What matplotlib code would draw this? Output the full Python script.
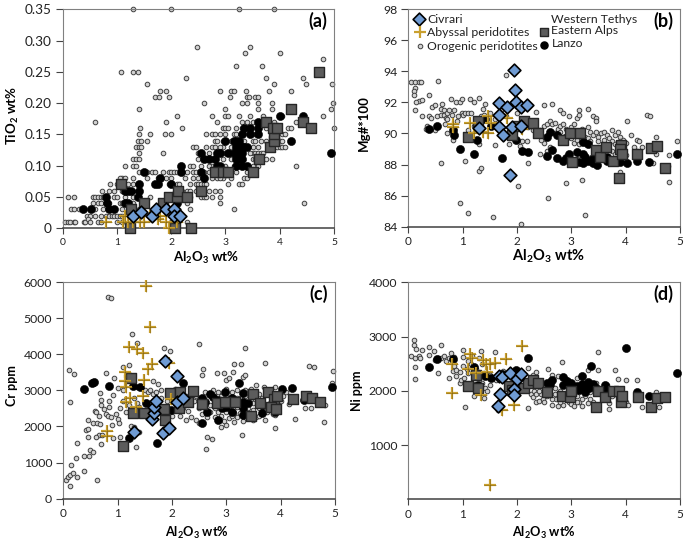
import matplotlib
matplotlib.use('Agg')
import matplotlib.pyplot as plt

plt.rcParams['font.family'] = ['Lato', 'DejaVu Sans']
plt.rcParams['mathtext.fontset'] = 'custom'
plt.rcParams['mathtext.rm'] = 'Lato'
plt.rcParams['mathtext.bf'] = 'Lato:bold'

x_ticks = [0, 1, 2, 3, 4, 5]
ticks_a = [0, 0.05, 0.10, 0.15, 0.20, 0.25, 0.30, 0.35]
tick_labels_a = ['0', '0.05', '0.10', '0.15', '0.20', '0.25', '0.30', '0.35']
ticks_b = [84, 86, 88, 90, 92, 94, 96, 98]
ticks_c = [0, 1000, 2000, 3000, 4000, 5000, 6000]
ticks_d = [1000, 2000, 3000, 4000]

# panel a, Al2O3 vs TiO2
oro_a = [(1.3,.35),(2.0,.35),(3.25,.35),(3.9,.35),(2.48,.29),(3.45,.29),(3.36,.28),(4.0,.28),(4.8,.27),(3.2,.26),(3.68,.26),
(1.08,.25),(1.29,.25),(1.39,.25),(2.27,.24),(3.75,.24),(4.43,.24),(1.55,.23),(3.9,.23),(4.49,.23),(4.97,.23),
(1.8,.22),(1.9,.22),(2.9,.22),(3.1,.22),(3.15,.22),(3.37,.22),(3.8,.22),(4.2,.22),(1.7,.21),(1.77,.21),(1.95,.21),(3.08,.21),(3.4,.21),(3.43,.21),(3.55,.21),(3.6,.21),
(2.6,.20),(3.3,.20),(3.4,.20),(3.6,.20),(3.85,.20),(4.98,.20),(1.4,.19),(3.0,.19),(3.6,.19),(3.85,.19),(4.95,.19),
(2.1,.18),(2.75,.18),(3.0,.18),(3.05,.18),(3.25,.18),(3.45,.18),(3.7,.18),(4.05,.18),(4.8,.18),(.6,.17),(1.9,.17),(2.85,.17),(3.3,.17),(3.5,.17),(3.9,.17),(4.3,.17),
(1.42,.16),(2.2,.16),(2.95,.16),(3.0,.16),(3.05,.16),(3.3,.16),(3.75,.16),(4.15,.16),(4.2,.16),(5.0,.16),
(1.4,.15),(1.6,.15),(1.88,.15),(2.0,.15),(2.75,.15),(2.8,.15),(2.9,.15),(3.0,.15),(3.15,.15),(3.55,.15),(3.95,.15),(4.05,.15),(4.1,.15),
(1.38,.14),(1.45,.14),(1.55,.14),(2.8,.14),(2.85,.14),(2.95,.14),(3.1,.14),(3.5,.14),(3.55,.14),(3.65,.14),(4.0,.14),(4.05,.14),
(1.36,.13),(1.4,.13),(1.45,.13),(2.4,.13),(2.45,.13),(2.65,.13),(2.75,.13),(2.8,.13),(2.95,.13),(3.1,.13),(3.5,.13),(3.6,.13),(3.95,.13),(4.0,.13),(4.05,.13),(4.1,.13),
(1.4,.12),(1.85,.12),(2.5,.12),(2.7,.12),(3.0,.12),(3.1,.12),(3.5,.12),(3.55,.12),(3.6,.12),(3.65,.12),(3.7,.12),
(1.3,.11),(1.35,.11),(1.4,.11),(2.5,.11),(2.6,.11),(2.65,.11),(2.95,.11),(3.1,.11),(3.5,.11),(3.55,.11),(3.75,.11),(3.85,.11),
(1.14,.10),(1.3,.10),(1.35,.10),(2.35,.10),(2.4,.10),(2.75,.10),(3.0,.10),(3.15,.10),(3.4,.10),(3.5,.10),(3.6,.10),(4.3,.10),
(1.1,.08),(1.4,.09),(1.55,.09),(1.65,.09),(1.7,.09),(1.85,.09),(1.95,.09),(2.0,.09),(2.05,.09),(2.1,.09),(2.4,.09),(2.6,.09),(2.7,.09),(3.1,.09),(3.2,.09),(3.4,.09),(3.55,.09),
(1.05,.08),(1.15,.08),(1.3,.08),(1.55,.08),(1.75,.08),(1.9,.08),(2.0,.08),(2.4,.08),(2.5,.08),(2.75,.08),(2.85,.08),(2.95,.08),(3.1,.08),(3.35,.08),(3.4,.08),
(.87,.07),(1.0,.07),(1.1,.07),(1.2,.07),(1.3,.07),(1.95,.07),(2.1,.07),(2.15,.07),(2.35,.07),(2.45,.07),(2.5,.07),(2.55,.07),(2.6,.07),(2.65,.07),(3.05,.07),(3.25,.07),(3.3,.07),
(.72,.06),(.85,.06),(.95,.06),(1.1,.06),(1.3,.06),(2.2,.06),(2.3,.06),(2.35,.06),(2.45,.06),(2.7,.06),(2.8,.06),(2.9,.06),
(.1,.05),(.2,.05),(.55,.05),(.6,.05),(.65,.05),(.7,.05),(.75,.05),(.95,.05),(1.0,.05),(1.15,.05),(1.3,.05),(1.6,.05),(2.35,.05),(2.55,.05),(2.6,.05),(2.65,.05),(2.75,.05),(2.9,.05),
(.55,.04),(.65,.04),(.7,.04),(.85,.04),(1.05,.04),(1.1,.04),(1.3,.04),(2.3,.04),(2.9,.04),(4.44,.04),
(.15,.03),(.2,.03),(.3,.03),(.52,.03),(.6,.03),(.75,.03),(1.1,.03),(1.4,.03),(2.35,.03),(3.15,.03),
(.45,.02),(.5,.02),(.6,.02),(.7,.02),(.8,.02),(.85,.02),(.9,.02),(.95,.02),(1.0,.02),(1.05,.02),(1.1,.02),(1.6,.02),
(.05,.01),(.1,.01),(.13,.01),(.2,.01),(.22,.01),(.4,.01),(.42,.01),(.47,.015),(.5,.01),(.65,.01),(.7,.01),(1.0,.01),(1.1,.01),(2.0,.01),(2.3,.01),
(2.45,.09),(2.55,.10),(2.7,.10),(2.85,.09),(2.9,.08),(3.2,.15),(3.35,.14),(3.45,.12),(3.4,.17),(3.2,.16),(2.9,.13),(2.65,.15),(3.8,.13),(3.85,.15),(3.75,.14),(2.3,.09),(2.25,.08)]
lanzo_a = [(.38,.03),(.52,.03),(.8,.05),(.82,.04),(.85,.03),(.95,.03),(1.15,.06),(1.2,.06),(1.25,.06),(1.15,.04),(1.2,.04),(1.4,.07),(1.4,.06),(1.38,.05),
(1.5,.09),(1.7,.07),(1.75,.07),(1.8,.08),(2.0,.07),(2.18,.10),(2.18,.09),(2.55,.12),(2.55,.09),(2.6,.08),(2.6,.11),(2.7,.11),(2.85,.12),(2.8,.11),(2.9,.12),(2.85,.10),(2.9,.10),
(3.0,.14),(3.05,.12),(3.15,.14),(3.2,.14),(3.25,.14),(3.2,.13),(3.3,.13),(3.15,.12),(3.25,.12),(3.3,.12),(3.2,.11),(3.25,.11),(3.3,.11),(3.2,.10),(3.3,.10),(3.35,.13),(3.4,.13),
(3.3,.15),(3.35,.16),(3.45,.16),(3.45,.15),(3.6,.17),(3.6,.16),(3.6,.15),(4.0,.18),(4.2,.14),(4.43,.18),(4.95,.12),(2.05,.03),(2.1,.04),(3.4,.10)]
alps_a = [(1.08,.07),(1.25,.03),(1.24,0),(1.5,.04),(1.85,.04),(1.95,.05),(2.1,.05),(2.13,.06),(2.3,.05),(2.55,.06),(2.8,.09),(2.95,.09),(3.05,.09),(3.5,.09),(3.62,.11),
(3.75,.17),(3.82,.13),(3.9,.14),(3.9,.15),(3.88,.16),(3.95,.16),(4.2,.19),(4.43,.17),(4.57,.16),(4.72,.25),(2.07,0),(2.36,0)]
abyssal_a = [(.8,.01),(1.12,.01),(1.15,.02),(1.2,.01),(1.3,.01),(1.42,.01),(1.5,.01),(1.6,.02),(1.65,.02),(1.75,.015),(1.8,.02),(1.9,.01),(1.95,0),(2.1,.01)]
civrari_a = [(1.29,.02),(1.45,.025),(1.65,.02),(1.72,.03),(1.9,.03),(2.05,.03),(2.05,.02),(2.17,.02)]

# panel b, Al2O3 vs Mg#
oro_b = [(.05,93.3),(.12,93.3),(.2,93.3),(.23,93.3),(.12,92.9),(.11,92.7),(.1,92.5),(.54,93.4),(.38,92.5),(.2,92.1),(.25,92.15),(.15,92),(.12,91.5),(.25,91.15),
(.38,91.1),(.42,91),(.43,91.7),(.5,91.8),(.52,91.1),(.35,90.5),(.33,90.3),(.5,90.2),(.6,91.6),(.62,91.9),(.65,91.5),(.6,91.2),(.65,91.2),(.7,91),(.72,91.3),(.75,91.5),(.78,92.2),
(.72,90.9),(.68,90.6),(.72,90),(.8,91.2),(.85,91.5),(.87,92.05),(.92,91.1),(.95,92),(.98,92.2),(.98,91.3),(1.0,91.2),(.9,90.8),(1.05,91.3),(1.1,91.3),(1.13,92.2),(1.15,91.3),
(1.2,92),(1.3,92.3),(1.33,91.1),(1.4,91.2),(1.38,91.6),(1.42,91.9),(1.5,91.3),(.85,90.3),(.82,89.6),(.6,88.1),(1.05,88.2),(1.3,87.6),(1.33,87.75),(1.3,89.3),(.96,85.5),(1.1,84.85),
(1.56,84.6),(2.08,84.15),(2.57,85.85),(3.25,84.75),(2.02,86.6),(2.9,86.8),(3.2,87),(1.8,93.75),(2.2,88.1),(4.8,86.85),(4.78,87.9),(4.95,89.5),(4.8,88.6),
(1.6,89.25),(1.85,89.3),(2.05,89.2),(2.1,89.5),(2.18,89.5),(2.15,88.9),(2.43,88.7),(2.5,89.4),(2.35,91.4),(2.5,91.85),(2.65,91.9),(2.8,91.5),(2.85,91.3),(2.95,91.1),
(2.43,90.2),(2.5,90.5),(2.55,90.6),(2.6,90.8),(2.65,90.6),(2.7,90.7),(2.75,90.3),(2.8,90.5),(2.85,90.6),(2.9,90.3),(2.95,90.1),(3,90.4),(3.05,90.6),(3.1,91),(3.15,91.5),(3.15,91.2),
(3.3,91.6),(3.4,91.1),(3.45,91),(3.45,90.8),(3.3,90.4),(3.35,90.1),(3.2,90.3),(2.7,90),(2.8,90.1),(2.9,89.8),(3,89.7),(3.05,89.4),(3.1,89.6),(3.15,89.3),(3.25,89.8),(3.3,89.7),
(3.35,89.5),(3.4,89.9),(3.45,90.1),(3.5,89.8),(3.55,90),(3.6,90.1),(3.65,89.9),(3.7,89.7),(3.75,90.2),(3.8,89.9),(3.85,90.1),(3.5,89.5),(3.6,89.6),(3.75,89.5),(3.8,89.3),(3.9,89.8),
(3.95,89.6),(3.9,89.5),(4.0,89.4),(4.03,90.8),(4.1,89.9),(4.2,89.6),(4.25,89.5),(4.4,91.2),(4.45,91.1),(4.55,89.8),(4.3,89.1),(4.15,89.1),(4.2,88.9),(4.55,88.7),(3.55,88.6),(3.65,88.4),
(3.75,88.9),(3.8,88.7),(3.85,88.4),(4.0,88.6),(3.9,87.5),(4.5,88.1),(2.4,89.9),(2.45,89.6),(2.6,89.1),(2.55,88.9),(3.0,88.4),(3.15,88.6),(1.2,90.5),(1.1,90.2),(1.6,90.9),(1.8,91.1),(1.7,91.5),(2.0,91.3),(2.2,90.4),(2.3,90.2)]
lanzo_b = [(.39,90.3),(.53,90.5),(.83,90.2),(.85,89.9),(.95,89),(1.2,88.7),(1.26,89.6),(1.41,90.9),(1.52,90.5),(1.72,88.45),(1.98,89.6),(2.1,88.9),(2.2,88.8),(2.55,88.55),(2.55,89.75),
(2.64,88.95),(2.6,90.1),(2.73,89.9),(2.74,88.4),(2.85,88.25),(2.91,88.4),(2.95,88.7),(2.88,89.7),(3.1,88.8),(3.0,88.15),(3.14,88.15),(3.22,88.7),(3.25,88.5),(3.22,88.1),(3.31,88.2),
(3.22,89.45),(3.31,89.35),(3.4,88.4),(3.4,88.1),(3.47,88),(3.65,88.5),(3.65,88.2),(3.9,88.15),(4.02,88.1),(4.2,88.2),(4.43,88.15),(4.94,88.7)]
alps_b = [(1.09,89.75),(1.28,90.8),(1.9,89.9),(2.0,90.5),(2.12,90.8),(2.29,90.7),(2.38,90.05),(2.85,89.6),(2.98,90),(3.16,90),(3.02,88.15),(3.45,88.95),(3.53,88.5),(3.63,89.15),(3.77,88.25),
(3.87,87.1),(3.91,89.25),(3.9,89),(3.93,88.7),(4.2,88.7),(4.47,89.05),(4.57,89.2),(4.72,87.8)]
abyssal_b = [(.82,90.6),(.83,90.4),(1.13,90.65),(1.2,90.05),(1.38,90.1),(1.47,91.1),(1.47,90),(1.53,90.65),(1.82,91),(2.09,90.3)]
civrari_b = [(1.31,90.37),(1.66,91.96),(1.67,91.2),(1.67,90.4),(1.74,89.9),(1.82,91.7),(1.94,94.1),(1.96,92.8),(1.88,87.3),(1.91,90.4),(1.99,92.05),(2.08,90.5),(2.08,91.7),(2.18,91.8)]

# panel c, Al2O3 vs Cr
oro_c = [(.1,3550),(.2,3450),(.12,2680),(.05,530),(.08,600),(.12,650),(.17,720),(.15,930),(.25,600),(.12,350),(.23,1130),(.25,1530),(.38,780),(.38,1180),(.48,1170),(.5,1350),(.55,1300),(.62,530),
(.42,1900),(.45,1920),(.45,2190),(.45,1700),(.55,2090),(.58,2430),(.6,2400),(.62,2100),(.65,2300),(.68,2080),(.7,2590),(.7,2730),(.68,2930),(.65,1750),(.7,1520),(.72,1750),(.6,1720),
(.78,3480),(.75,2470),(.78,2350),(.82,2300),(.85,2530),(.85,2700),(.88,2250),(.9,2040),(.92,2870),(.93,3330),(.82,5580),(.88,5550),(.92,1680),(.97,2350),(1,2200),(1,3070),(1.02,2100),(1.05,1700),
(1.1,3640),(1.2,3690),(1.25,2000),(1.27,4550),(1.35,4320),(1.33,1420),(1.3,1980),(1.4,1860),(1.35,3100),(1.3,2800),(1.35,2650),(1.4,2550),(1.5,3000),(1.55,2960),(1.6,3000),(1.65,3270),(1.75,3180),
(1.65,2900),(1.7,2950),(1.8,3000),(1.85,4180),(1.97,4080),(1.83,2550),(1.95,2040),(2.1,3520),(2.0,2290),(2.15,2300),(2.25,2180),(2.45,2180),(2.5,2100),(2.5,4290),(2.55,3420),(2.58,3590),(2.83,3480),
(2.63,1380),(2.65,1710),(2.73,1650),(2.9,1980),(3,2040),(2.95,3480),(3.0,3300),(3.05,3350),(3.12,3500),(3.15,3740),(3.27,3740),(3.35,4180),(3.3,3380),(3.35,3430),(3.72,3770),(3.28,1770),(3.9,1960),
(4.27,2210),(4.52,3670),(4.62,3640),(4.97,3540),(4.95,3200),(4.8,2120),(4.82,2590),(4.45,2510),(4.55,2510),(1.1,2700),(1.15,2400),(1.1,3000),(1.2,2600),(1.05,2500),
(2.3,2420),(2.35,2250),(2.4,2700),(2.45,2850),(2.5,2500),(2.55,2350),(2.6,2950),(2.65,2250),(2.7,2600),(2.7,2400),(2.75,3000),(2.8,2500),(2.8,2250),(2.85,2950),(2.9,2300),(2.95,2780),(2.95,2150),
(3.0,3050),(3.0,2400),(3.05,2230),(3.05,2900),(3.1,2600),(3.1,2950),(3.15,2130),(3.15,2380),(3.2,2550),(3.2,2250),(3.2,3020),(3.25,2800),(3.25,2380),(3.3,2150),(3.35,3000),(3.35,2850),(3.4,2500),
(3.4,2250),(3.45,3050),(3.45,2700),(3.5,2450),(3.5,2180),(3.55,3150),(3.55,2250),(3.6,2900),(3.6,2500),(3.65,2800),(3.7,3100),(3.7,2550),(3.72,2190),(3.8,2650),(3.8,3020),(3.85,2350),(3.9,3100),
(3.9,2330),(3.95,2900),(4.0,2700),(4.05,2850),(4.1,2950),(4.15,2620),(4.2,2700),(2.2,2500),(2.25,2850),(2.05,3050),(1.9,2700),(1.8,2800),
(2.85,2400),(2.9,2850),(3.0,2650),(3.05,2550),(3.1,2300),(3.2,2800),(3.3,2600),(3.35,2400),(3.45,2350),(3.5,2650),(3.6,2300),(3.65,2650),(3.75,2400),(3.85,2800),(2.6,2500),(2.5,2750)]
lanzo_c = [(.39,3040),(.53,3190),(.57,3220),(.85,3130),(1.28,3130),(1.41,3080),(1.52,2640),(1.2,1670),(1.72,1530),(1.98,2450),(2.2,3190),(2.2,2780),(2.55,2780),(2.55,2100),(2.65,2410),(2.6,2690),
(2.7,2900),(2.76,2820),(2.85,2730),(2.85,2180),(2.92,2500),(2.98,2960),(3.0,2530),(3.1,2780),(3.1,2410),(3.23,3190),(3.31,2920),(3.31,2690),(3.31,2500),(3.31,2320),(3.4,2640),(3.65,2590),(3.65,2360),
(3.9,2410),(4.02,3040),(4.2,3060),(4.43,2730),(4.94,3100)]
alps_c = [(1.09,1460),(1.25,3330),(1.28,2360),(1.48,2360),(1.85,2470),(1.87,2180),(1.96,2920),(2.15,2960),(2.12,2500),(2.3,2670),(2.39,2990),(2.55,2610),(2.82,2640),(2.98,2670),(3.16,2690),(3.45,2300),
(3.5,2900),(3.62,2640),(3.76,2960),(3.87,2750),(3.83,2550),(3.91,2470),(3.93,2840),(4.22,2750),(4.47,2840),(4.57,2780),(4.72,2690)]
abyssal_c = [(1.52,5900),(1.6,4750),(1.2,4210),(1.35,4150),(1.47,4040),(1.95,3750),(1.63,3730),(1.56,3590),(1.13,3520),(1.13,3260),(1.49,3290),(1.15,3080),(1.46,2840),(1.23,2780),(1.15,2690),(1.34,2530),(1.98,2750),(.8,1870),(.8,1745)]
civrari_c = [(1.3,1850),(1.64,2220),(1.66,2360),(1.67,2550),(1.7,2710),(1.83,1810),(1.94,1970),(1.87,3820),(2.09,3400),(2.09,2690),(2.2,2780)]

# panel d, Al2O3 vs Ni
oro_d = [(.05,2650),(.1,2840),(.1,2940),(.15,2770),(.12,2600),(.2,2650),(.22,2600),(.25,2760),(.12,2440),(.12,2220),(.38,2800),(.38,2660),(.47,2730),(.5,2560),(.55,2600),(.55,2330),(.6,2600),(.6,2840),
(.65,2640),(.7,2550),(.75,2610),(.78,2700),(.75,2230),(.85,2620),(.85,2450),(.82,2370),(.88,2390),(.87,2270),(.95,2150),(.97,2200),(1,2750),(1,2620),(1.02,2230),(1.05,1700),(1.08,2400),(1.1,2330),
(1.1,2550),(1.15,2500),(1.18,2650),(1.2,1900),(1.22,2130),(1.3,2250),(1.3,2600),(1.33,2740),(1.35,2500),(1.35,2150),(1.4,2330),(1.42,2050),(1.45,2000),(1.4,1870),(1.5,2100),(1.6,2720),(1.62,2200),(1.65,1650),
(1.75,2370),(1.8,2250),(1.85,2100),(2.05,2100),(2.1,2300),(2.2,2420),(2.2,1690),(2.3,2300),(2.35,2340),(2.25,1950),(2.3,1880),(2.32,2000),(2.35,1800),(2.4,1820),(2.45,1950),(2.48,1850),(2.4,2100),
(2.55,1900),(2.57,2410),(2.6,2200),(2.65,2300),(2.65,1740),(2.7,2050),(2.72,1850),(2.75,1720),(2.75,2270),(2.82,2530),(2.8,2000),(2.85,1850),(2.85,1730),(2.9,2100),(2.95,1800),(3.0,2020),(3.0,1760),
(3.05,1950),(3.05,1720),(3.1,1900),(3.15,1800),(3.15,2050),(3.2,1720),(3.25,1900),(3.3,1780),(3.3,2380),(3.35,1970),(3.4,1800),(3.45,2150),(3.5,2390),(3.5,2720),(3.55,2000),(3.6,1850),(3.65,2100),
(3.7,1770),(3.7,1660),(3.75,1900),(3.8,2380),(3.85,2210),(3.9,1950),(3.95,1770),(4.0,2200),(4.0,1800),(4.05,1730),(4.2,2200),(4.2,1900),(4.3,1700),(4.55,1970),(4.62,1700),(4.45,1900),(3.1,2230),(2.9,2220),
(2.35,1950),(2.4,2000),(2.5,1800),(2.6,1950),(2.65,1850),(2.7,1950),(2.8,1800),(2.9,1950),(3.1,1800),(3.2,1850),(3.35,1850),(1.5,2300),(1.25,2400),(1.0,2450),(.95,2350)]
lanzo_d = [(.39,2430),(.53,2590),(.83,2580),(1.2,2440),(1.28,2100),(1.41,2270),(1.52,2240),(1.72,2310),(1.98,2380),(2.2,2610),(2.55,2150),(2.6,2120),(2.65,2200),(2.85,2250),(2.85,2110),(2.92,2180),(2.98,2060),
(3.0,2150),(3.1,2090),(3.15,2020),(3.2,2270),(3.2,2120),(3.25,1980),(3.25,2060),(3.3,2160),(3.33,2050),(3.37,2460),(3.4,2130),(3.45,2060),(3.62,2100),(3.65,2000),(3.9,1980),(4.0,2790),(4.2,1980),(4.43,1900),(4.94,2330)]
alps_d = [(1.09,2090),(1.25,2290),(1.28,2060),(1.85,2090),(1.9,2010),(2.12,2060),(2.2,2150),(2.3,2190),(2.39,2150),(2.55,1980),(2.82,1900),(2.98,1890),(3.0,2000),(3.45,1700),(3.5,2000),(3.62,1880),(3.76,2000),(3.87,2000),
(3.91,1790),(3.93,1900),(4.22,1880),(4.47,1710),(4.57,1860),(4.72,1880)]
abyssal_d = [(.8,1960),(.8,2500),(1.1,2400),(1.13,2680),(1.17,2600),(1.25,2330),(1.34,1930),(1.38,2560),(1.43,2500),(1.45,2350),(1.5,270),(1.5,2500),(1.6,2520),(1.72,1640),(1.8,2580),(1.95,1730),(2.1,2820)]
civrari_d = [(1.65,1720),(1.68,1950),(1.67,2270),(1.73,2260),(1.87,2320),(1.94,2030),(1.95,1930),(2.0,2210),(2.08,2310)]

GOLD = '#c9a02f'
GOLD_DARK = '#8a6a14'
BLUE = '#6f9bd3'
ORO_FILL = '#d2d2d2'
ORO_EDGE = '#3f3f3f'
ALPS_FILL = '#5c5c5c'
ALPS_EDGE = '#262626'
AL2O3 = r'Al$_{\mathbf{2}}$O$_{\mathbf{3}}$ wt%'


def draw_panel(ax, oro, lanzo, alps, abyssal, civrari):
    ax.scatter(*zip(*oro), s=11, c=ORO_FILL, edgecolors=ORO_EDGE, linewidths=0.7, zorder=2, clip_on=False)
    ax.scatter(*zip(*lanzo), s=34, c='black', edgecolors='black', linewidths=0.4, zorder=3, clip_on=False)
    ax.scatter(*zip(*alps), marker='s', s=52, c=ALPS_FILL, edgecolors=ALPS_EDGE, linewidths=1.0, zorder=4, clip_on=False)
    ax.scatter(*zip(*abyssal), marker='+', s=75, c=GOLD, linewidths=1.6, zorder=5, clip_on=False)
    ax.scatter(*zip(*abyssal), marker='+', s=70, c=GOLD_DARK, linewidths=0.4, zorder=5, clip_on=False)
    ax.scatter(*zip(*civrari), marker='D', s=42, c=BLUE, edgecolors='black', linewidths=1.2, zorder=6, clip_on=False)
    ax.set_xlim(0, 5)
    ax.set_xticks(x_ticks)
    ax.tick_params(axis='x', length=4, width=0.8, color='#444444', labelsize=8.5, pad=3, labelcolor='#222222')
    ax.tick_params(axis='y', length=5, width=0.8, color='#444444', labelsize=8.8, pad=3, labelcolor='#222222')
    for side in ['top', 'right', 'left']:
        ax.spines[side].set_color('#808080')
    ax.spines['bottom'].set_color('#404040')
    ax.spines['bottom'].set_linewidth(1.1)


W, H = 685, 542
fig = plt.figure(figsize=(6.85, 5.42), dpi=100)


def axes_px(x0, x1, y_top, y_bot):
    return fig.add_axes([x0 / W, 1 - y_bot / H, (x1 - x0) / W, (y_bot - y_top) / H])


ax_a = axes_px(62.7, 334, 9.3, 228)
draw_panel(ax_a, oro_a, lanzo_a, alps_a, abyssal_a, civrari_a)
ax_a.set_ylim(0, 0.35)
ax_a.set_yticks(ticks_a, tick_labels_a)
ax_a.tick_params(axis='y', labelsize=9.8)
ax_a.tick_params(axis='x', labelsize=7.5)
ax_a.set_xlabel(AL2O3, fontweight='bold', fontsize=9.5)
ax_a.xaxis.set_label_coords(0.528, -0.10)
ax_a.set_ylabel(r'TiO$_{\mathbf{2}}$ wt%', fontweight='bold', fontsize=9.5)
ax_a.yaxis.set_label_coords(-0.155, 0.515)
ax_a.text(0.975, 0.945, '(a)', transform=ax_a.transAxes, ha='right', va='center', fontweight='bold', fontsize=13)

ax_b = axes_px(408.3, 680, 9, 226.7)
draw_panel(ax_b, oro_b, lanzo_b, alps_b, abyssal_b, civrari_b)
ax_b.set_ylim(84, 98)
ax_b.set_yticks(ticks_b)
ax_b.set_xlabel(AL2O3, fontweight='bold', fontsize=10.5)
ax_b.xaxis.set_label_coords(0.515, -0.093)
ax_b.set_ylabel('Mg#*100', fontweight='bold', fontsize=9.5)
ax_b.yaxis.set_label_coords(-0.14, 0.478)
ax_b.text(0.975, 0.945, '(b)', transform=ax_b.transAxes, ha='right', va='center', fontweight='bold', fontsize=13)

# legend of panel b, drawn by hand to keep the two column layout
ax_b.scatter(0.04, 0.954, marker='D', s=42, c=BLUE, edgecolors='black', linewidths=1.2, transform=ax_b.transAxes, zorder=7)
ax_b.scatter(0.043, 0.894, marker='+', s=75, c=GOLD, linewidths=1.6, transform=ax_b.transAxes, zorder=7)
ax_b.scatter(0.043, 0.832, s=11, c=ORO_FILL, edgecolors=ORO_EDGE, linewidths=0.7, transform=ax_b.transAxes, zorder=7)
ax_b.scatter(0.499, 0.894, marker='s', s=36, c=ALPS_FILL, edgecolors=ALPS_EDGE, linewidths=1.0, transform=ax_b.transAxes, zorder=7)
ax_b.scatter(0.499, 0.835, s=26, c='black', transform=ax_b.transAxes, zorder=7)
leg_names = ['Civrari', 'Abyssal peridotites', 'Orogenic peridotites', 'Western Tethys', 'Eastern Alps', 'Lanzo']
leg_text_x = [0.069, 0.069, 0.069, 0.527, 0.527, 0.527]
leg_text_y = [0.954, 0.89, 0.83, 0.954, 0.899, 0.84]
for tx, ty, name in zip(leg_text_x, leg_text_y, leg_names):
    ax_b.text(tx, ty, name, transform=ax_b.transAxes, va='center', fontsize=8.8, color='#222222')

ax_c = axes_px(63.3, 335, 282, 498.7)
draw_panel(ax_c, oro_c, lanzo_c, alps_c, abyssal_c, civrari_c)
ax_c.set_ylim(0, 6000)
ax_c.set_yticks(ticks_c)
ax_c.set_xlabel(AL2O3, fontweight='bold', fontsize=9.2)
ax_c.xaxis.set_label_coords(0.49, -0.12)
ax_c.set_ylabel('Cr ppm', fontweight='bold', fontsize=9)
ax_c.yaxis.set_label_coords(-0.165, 0.52)
ax_c.text(0.975, 0.945, '(c)', transform=ax_c.transAxes, ha='right', va='center', fontweight='bold', fontsize=13)

ax_d = axes_px(408.3, 680, 282.3, 499.3)
draw_panel(ax_d, oro_d, lanzo_d, alps_d, abyssal_d, civrari_d)
ax_d.set_ylim(0, 4000)
ax_d.set_yticks(ticks_d)
ax_d.set_xlabel(AL2O3, fontweight='bold', fontsize=9.2)
ax_d.xaxis.set_label_coords(0.5, -0.12)
ax_d.set_ylabel('Ni ppm', fontweight='bold', fontsize=9)
ax_d.yaxis.set_label_coords(-0.165, 0.5)
ax_d.text(0.975, 0.945, '(d)', transform=ax_d.transAxes, ha='right', va='center', fontweight='bold', fontsize=13)

fig.savefig('out.png', dpi=100)
